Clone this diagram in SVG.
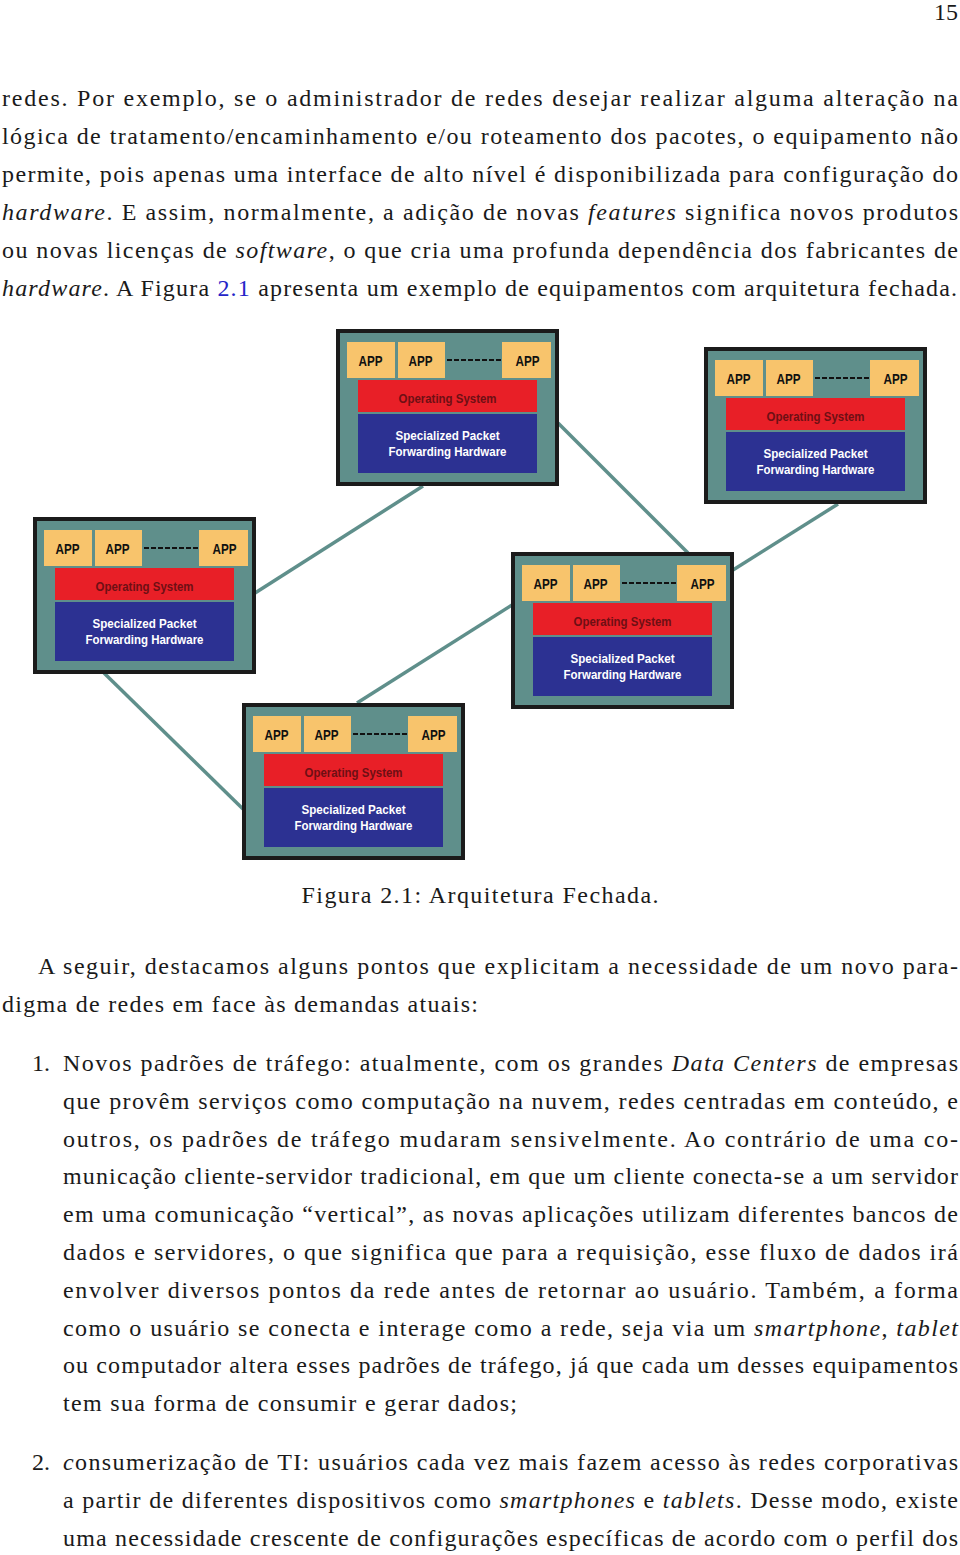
<svg xmlns="http://www.w3.org/2000/svg" width="960" height="1555" viewBox="0 0 960 1555">
<style>
.b{font-family:"Liberation Serif","Times New Roman",serif;font-size:24px;fill:#1a1a1a}
.i{font-style:italic}
.ref{fill:#2424c8}
.frame{fill:#5f8f8b;stroke:#1b1b1b;stroke-width:4}
.app{fill:#f8c46c}
.os{fill:#e81f27}
.hw{fill:#2c3192}
.t{font-family:"Liberation Sans",Arial,sans-serif;font-weight:bold;text-anchor:middle}
.apt{font-size:15px;fill:#111}
.ost{font-size:13px;fill:#6e0f14}
.hwt{font-size:13px;fill:#fff}
.dash{stroke:#111;stroke-width:2;stroke-dasharray:5 2}
.link{stroke:#5f8f8b;stroke-width:3.5;fill:none}
</style>
<rect width="960" height="1555" fill="#fff"/>

<text class="b" x="958" y="20" text-anchor="end" font-size="22">15</text>

<g id="para1">
<text class="b" x="2" y="105.5" textLength="956" lengthAdjust="spacing">redes.  Por exemplo, se o administrador de redes desejar realizar alguma alteração na</text>
<text class="b" x="2" y="143.5" textLength="956" lengthAdjust="spacing">lógica de tratamento/encaminhamento e/ou roteamento dos pacotes, o equipamento não</text>
<text class="b" x="2" y="181.5" textLength="956" lengthAdjust="spacing">permite, pois apenas uma interface de alto nível é disponibilizada para configuração do</text>
<text class="b" x="2" y="219.5" textLength="956" lengthAdjust="spacing"><tspan class="i">hardware</tspan>.  E assim, normalmente, a adição de novas <tspan class="i">features</tspan> significa novos produtos</text>
<text class="b" x="2" y="257.5" textLength="956" lengthAdjust="spacing">ou novas licenças de <tspan class="i">software</tspan>, o que cria uma profunda dependência dos fabricantes de</text>
<text class="b" x="2" y="295.5" textLength="955" lengthAdjust="spacing"><tspan class="i">hardware</tspan>. A Figura <tspan class="ref">2.1</tspan> apresenta um exemplo de equipamentos com arquitetura fechada.</text>
</g>

<g id="connectors">
<line class="link" x1="423" y1="486" x2="255" y2="593"/>
<line class="link" x1="558" y1="423" x2="688" y2="553"/>
<line class="link" x1="838" y1="504" x2="733" y2="570"/>
<line class="link" x1="104" y1="673" x2="243" y2="809"/>
<line class="link" x1="512" y1="605" x2="357" y2="703"/>
</g>

<g id="node-top" transform="translate(336,329)">
<rect class="frame" x="2" y="2" width="219" height="153"/>
<rect class="app" x="11" y="13" width="48" height="36"/>
<rect class="app" x="62" y="13" width="47" height="36"/>
<rect class="app" x="166" y="13" width="49" height="36"/>
<line class="dash" x1="111" y1="31" x2="166" y2="31"/>
<rect class="os" x="22" y="51" width="179" height="32"/>
<rect class="hw" x="22" y="85" width="179" height="59"/>
<text class="t apt" x="34.5" y="36.8" textLength="24" lengthAdjust="spacingAndGlyphs">APP</text>
<text class="t apt" x="84.5" y="36.8" textLength="24" lengthAdjust="spacingAndGlyphs">APP</text>
<text class="t apt" x="191.5" y="36.8" textLength="24" lengthAdjust="spacingAndGlyphs">APP</text>
<text class="t ost" x="111.5" y="73.5" textLength="98" lengthAdjust="spacingAndGlyphs">Operating System</text>
<text class="t hwt" x="111.5" y="111" textLength="104" lengthAdjust="spacingAndGlyphs">Specialized Packet</text>
<text class="t hwt" x="111.5" y="127" textLength="118" lengthAdjust="spacingAndGlyphs">Forwarding Hardware</text>
</g>

<g id="node-right" transform="translate(704,347)">
<rect class="frame" x="2" y="2" width="219" height="153"/>
<rect class="app" x="11" y="13" width="48" height="36"/>
<rect class="app" x="62" y="13" width="47" height="36"/>
<rect class="app" x="166" y="13" width="49" height="36"/>
<line class="dash" x1="111" y1="31" x2="166" y2="31"/>
<rect class="os" x="22" y="51" width="179" height="32"/>
<rect class="hw" x="22" y="85" width="179" height="59"/>
<text class="t apt" x="34.5" y="36.8" textLength="24" lengthAdjust="spacingAndGlyphs">APP</text>
<text class="t apt" x="84.5" y="36.8" textLength="24" lengthAdjust="spacingAndGlyphs">APP</text>
<text class="t apt" x="191.5" y="36.8" textLength="24" lengthAdjust="spacingAndGlyphs">APP</text>
<text class="t ost" x="111.5" y="73.5" textLength="98" lengthAdjust="spacingAndGlyphs">Operating System</text>
<text class="t hwt" x="111.5" y="111" textLength="104" lengthAdjust="spacingAndGlyphs">Specialized Packet</text>
<text class="t hwt" x="111.5" y="127" textLength="118" lengthAdjust="spacingAndGlyphs">Forwarding Hardware</text>
</g>

<g id="node-left" transform="translate(33,517)">
<rect class="frame" x="2" y="2" width="219" height="153"/>
<rect class="app" x="11" y="13" width="48" height="36"/>
<rect class="app" x="62" y="13" width="47" height="36"/>
<rect class="app" x="166" y="13" width="49" height="36"/>
<line class="dash" x1="111" y1="31" x2="166" y2="31"/>
<rect class="os" x="22" y="51" width="179" height="32"/>
<rect class="hw" x="22" y="85" width="179" height="59"/>
<text class="t apt" x="34.5" y="36.8" textLength="24" lengthAdjust="spacingAndGlyphs">APP</text>
<text class="t apt" x="84.5" y="36.8" textLength="24" lengthAdjust="spacingAndGlyphs">APP</text>
<text class="t apt" x="191.5" y="36.8" textLength="24" lengthAdjust="spacingAndGlyphs">APP</text>
<text class="t ost" x="111.5" y="73.5" textLength="98" lengthAdjust="spacingAndGlyphs">Operating System</text>
<text class="t hwt" x="111.5" y="111" textLength="104" lengthAdjust="spacingAndGlyphs">Specialized Packet</text>
<text class="t hwt" x="111.5" y="127" textLength="118" lengthAdjust="spacingAndGlyphs">Forwarding Hardware</text>
</g>

<g id="node-center" transform="translate(511,552)">
<rect class="frame" x="2" y="2" width="219" height="153"/>
<rect class="app" x="11" y="13" width="48" height="36"/>
<rect class="app" x="62" y="13" width="47" height="36"/>
<rect class="app" x="166" y="13" width="49" height="36"/>
<line class="dash" x1="111" y1="31" x2="166" y2="31"/>
<rect class="os" x="22" y="51" width="179" height="32"/>
<rect class="hw" x="22" y="85" width="179" height="59"/>
<text class="t apt" x="34.5" y="36.8" textLength="24" lengthAdjust="spacingAndGlyphs">APP</text>
<text class="t apt" x="84.5" y="36.8" textLength="24" lengthAdjust="spacingAndGlyphs">APP</text>
<text class="t apt" x="191.5" y="36.8" textLength="24" lengthAdjust="spacingAndGlyphs">APP</text>
<text class="t ost" x="111.5" y="73.5" textLength="98" lengthAdjust="spacingAndGlyphs">Operating System</text>
<text class="t hwt" x="111.5" y="111" textLength="104" lengthAdjust="spacingAndGlyphs">Specialized Packet</text>
<text class="t hwt" x="111.5" y="127" textLength="118" lengthAdjust="spacingAndGlyphs">Forwarding Hardware</text>
</g>

<g id="node-bottom" transform="translate(242,703)">
<rect class="frame" x="2" y="2" width="219" height="153"/>
<rect class="app" x="11" y="13" width="48" height="36"/>
<rect class="app" x="62" y="13" width="47" height="36"/>
<rect class="app" x="166" y="13" width="49" height="36"/>
<line class="dash" x1="111" y1="31" x2="166" y2="31"/>
<rect class="os" x="22" y="51" width="179" height="32"/>
<rect class="hw" x="22" y="85" width="179" height="59"/>
<text class="t apt" x="34.5" y="36.8" textLength="24" lengthAdjust="spacingAndGlyphs">APP</text>
<text class="t apt" x="84.5" y="36.8" textLength="24" lengthAdjust="spacingAndGlyphs">APP</text>
<text class="t apt" x="191.5" y="36.8" textLength="24" lengthAdjust="spacingAndGlyphs">APP</text>
<text class="t ost" x="111.5" y="73.5" textLength="98" lengthAdjust="spacingAndGlyphs">Operating System</text>
<text class="t hwt" x="111.5" y="111" textLength="104" lengthAdjust="spacingAndGlyphs">Specialized Packet</text>
<text class="t hwt" x="111.5" y="127" textLength="118" lengthAdjust="spacingAndGlyphs">Forwarding Hardware</text>
</g>

<text class="b" x="480" y="903" text-anchor="middle" textLength="357" lengthAdjust="spacing">Figura 2.1: Arquitetura Fechada.</text>

<g id="para2">
<text class="b" x="38" y="974" textLength="920" lengthAdjust="spacing">A seguir, destacamos alguns pontos que explicitam a necessidade de um novo para-</text>
<text class="b" x="2" y="1012" textLength="476" lengthAdjust="spacing">digma de redes em face às demandas atuais:</text>
</g>

<g id="item1">
<text class="b" x="32" y="1071">1.</text>
<text class="b" x="63" y="1071" textLength="895" lengthAdjust="spacing">Novos padrões de tráfego: atualmente, com os grandes <tspan class="i">Data Centers</tspan> de empresas</text>
<text class="b" x="63" y="1108.8" textLength="895" lengthAdjust="spacing">que provêm serviços como computação na nuvem, redes centradas em conteúdo, e</text>
<text class="b" x="63" y="1146.6" textLength="895" lengthAdjust="spacing">outros, os padrões de tráfego mudaram sensivelmente.  Ao contrário de uma co-</text>
<text class="b" x="63" y="1184.4" textLength="895" lengthAdjust="spacing">municação cliente-servidor tradicional, em que um cliente conecta-se a um servidor</text>
<text class="b" x="63" y="1222.2" textLength="895" lengthAdjust="spacing">em uma comunicação “vertical”, as novas aplicações utilizam diferentes bancos de</text>
<text class="b" x="63" y="1260" textLength="895" lengthAdjust="spacing">dados e servidores, o que significa que para a requisição, esse fluxo de dados irá</text>
<text class="b" x="63" y="1297.8" textLength="895" lengthAdjust="spacing">envolver diversos pontos da rede antes de retornar ao usuário.  Também, a forma</text>
<text class="b" x="63" y="1335.6" textLength="895" lengthAdjust="spacing">como o usuário se conecta e interage como a rede, seja via um <tspan class="i">smartphone</tspan>, <tspan class="i">tablet</tspan></text>
<text class="b" x="63" y="1373.4" textLength="895" lengthAdjust="spacing">ou computador altera esses padrões de tráfego, já que cada um desses equipamentos</text>
<text class="b" x="63" y="1411.2" textLength="454" lengthAdjust="spacing">tem sua forma de consumir e gerar dados;</text>
</g>

<g id="item2">
<text class="b" x="32" y="1470">2.</text>
<text class="b" x="63" y="1470" textLength="895" lengthAdjust="spacing"><tspan class="i">c</tspan>onsumerização de TI: usuários cada vez mais fazem acesso às redes corporativas</text>
<text class="b" x="63" y="1507.8" textLength="895" lengthAdjust="spacing">a partir de diferentes dispositivos como <tspan class="i">smartphones</tspan> e <tspan class="i">tablets</tspan>. Desse modo, existe</text>
<text class="b" x="63" y="1545.6" textLength="895" lengthAdjust="spacing">uma necessidade crescente de configurações específicas de acordo com o perfil dos</text>
</g>
</svg>
